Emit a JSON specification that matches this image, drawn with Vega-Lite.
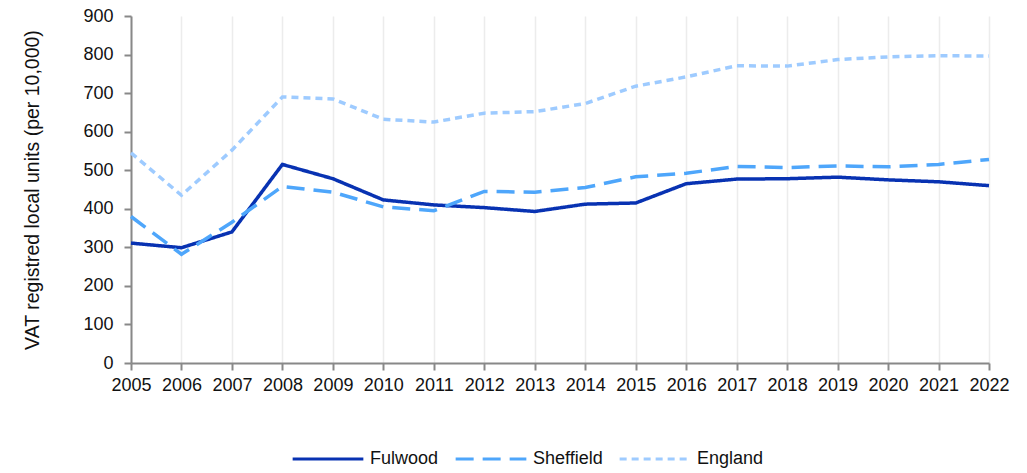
{
  "$schema": "https://vega.github.io/schema/vega-lite/v6.json",
  "width": 858,
  "height": 347,
  "autosize": {"type": "none"},
  "padding": {"left": 131, "top": 16, "right": 38, "bottom": 110},
  "background": "white",
  "config": {
    "view": {"stroke": null},
    "font": "Liberation Sans",
    "axis": {"labelFont": "Liberation Sans", "titleFont": "Liberation Sans", "labelColor": "#111", "titleColor": "#111"},
    "legend": {"labelFont": "Liberation Sans"}
  },
  "data": {"values": [
    {"year": 2005, "area": "Fulwood", "value": 311},
    {"year": 2006, "area": "Fulwood", "value": 299},
    {"year": 2007, "area": "Fulwood", "value": 340},
    {"year": 2008, "area": "Fulwood", "value": 515},
    {"year": 2009, "area": "Fulwood", "value": 478},
    {"year": 2010, "area": "Fulwood", "value": 423},
    {"year": 2011, "area": "Fulwood", "value": 410},
    {"year": 2012, "area": "Fulwood", "value": 403},
    {"year": 2013, "area": "Fulwood", "value": 393},
    {"year": 2014, "area": "Fulwood", "value": 412},
    {"year": 2015, "area": "Fulwood", "value": 415},
    {"year": 2016, "area": "Fulwood", "value": 465},
    {"year": 2017, "area": "Fulwood", "value": 477},
    {"year": 2018, "area": "Fulwood", "value": 478},
    {"year": 2019, "area": "Fulwood", "value": 482},
    {"year": 2020, "area": "Fulwood", "value": 475},
    {"year": 2021, "area": "Fulwood", "value": 470},
    {"year": 2022, "area": "Fulwood", "value": 460},
    {"year": 2005, "area": "Sheffield", "value": 380},
    {"year": 2006, "area": "Sheffield", "value": 282},
    {"year": 2007, "area": "Sheffield", "value": 365},
    {"year": 2008, "area": "Sheffield", "value": 458},
    {"year": 2009, "area": "Sheffield", "value": 443},
    {"year": 2010, "area": "Sheffield", "value": 405},
    {"year": 2011, "area": "Sheffield", "value": 395},
    {"year": 2012, "area": "Sheffield", "value": 445},
    {"year": 2013, "area": "Sheffield", "value": 443},
    {"year": 2014, "area": "Sheffield", "value": 455},
    {"year": 2015, "area": "Sheffield", "value": 483},
    {"year": 2016, "area": "Sheffield", "value": 492},
    {"year": 2017, "area": "Sheffield", "value": 510},
    {"year": 2018, "area": "Sheffield", "value": 507},
    {"year": 2019, "area": "Sheffield", "value": 511},
    {"year": 2020, "area": "Sheffield", "value": 509},
    {"year": 2021, "area": "Sheffield", "value": 515},
    {"year": 2022, "area": "Sheffield", "value": 528},
    {"year": 2005, "area": "England", "value": 545},
    {"year": 2006, "area": "England", "value": 435},
    {"year": 2007, "area": "England", "value": 552},
    {"year": 2008, "area": "England", "value": 690},
    {"year": 2009, "area": "England", "value": 685},
    {"year": 2010, "area": "England", "value": 632},
    {"year": 2011, "area": "England", "value": 625},
    {"year": 2012, "area": "England", "value": 648},
    {"year": 2013, "area": "England", "value": 652},
    {"year": 2014, "area": "England", "value": 673},
    {"year": 2015, "area": "England", "value": 718},
    {"year": 2016, "area": "England", "value": 742},
    {"year": 2017, "area": "England", "value": 771},
    {"year": 2018, "area": "England", "value": 770},
    {"year": 2019, "area": "England", "value": 787},
    {"year": 2020, "area": "England", "value": 794},
    {"year": 2021, "area": "England", "value": 797},
    {"year": 2022, "area": "England", "value": 796}
  ]},
  "mark": {"type": "line", "strokeWidth": 3.5, "strokeJoin": "miter"},
  "encoding": {
    "x": {
      "field": "year", "type": "quantitative",
      "scale": {"domain": [2005, 2022], "nice": false, "zero": false},
      "axis": {
        "title": null, "values": [2005,2006,2007,2008,2009,2010,2011,2012,2013,2014,2015,2016,2017,2018,2019,2020,2021,2022],
        "format": "d", "grid": true, "gridColor": "#ececec", "gridWidth": 1.5,
        "domainColor": "#888", "domainWidth": 2, "tickColor": "#888", "tickWidth": 2, "tickSize": 7,
        "labelFontSize": 18, "labelPadding": 6, "labelFlush": false
      }
    },
    "y": {
      "field": "value", "type": "quantitative",
      "scale": {"domain": [0, 900], "nice": false},
      "axis": {
        "title": "VAT registred local units (per 10,000)", "titleFontSize": 19.5, "titleFontWeight": "normal",
        "titlePadding": 40,
        "values": [0,100,200,300,400,500,600,700,800,900],
        "grid": false, "domainColor": "#888", "domainWidth": 2, "tickColor": "#888", "tickWidth": 2, "tickSize": 7,
        "labelFontSize": 18, "labelPadding": 11
      }
    },
    "color": {
      "field": "area", "type": "nominal",
      "scale": {"domain": ["Fulwood", "Sheffield", "England"], "range": ["#0832b2", "#4ea6fb", "#9ecbff"]},
      "legend": {
        "title": null, "orient": "none", "direction": "horizontal", "legendX": 160, "legendY": 406,
        "symbolType": "stroke", "symbolSize": 5000, "symbolStrokeWidth": 3, "labelFontSize": 18,
        "labelColor": "#111", "labelOffset": 5, "columnPadding": 10
      }
    },
    "strokeDash": {
      "field": "area", "type": "nominal",
      "scale": {"domain": ["Fulwood", "Sheffield", "England"], "range": [[1, 0], [18, 9], [7, 5]]},
      "legend": {
        "title": null, "orient": "none", "direction": "horizontal", "legendX": 160, "legendY": 406,
        "symbolType": "stroke", "symbolSize": 5000, "symbolStrokeWidth": 3, "labelFontSize": 18,
        "labelColor": "#111", "labelOffset": 5, "columnPadding": 10
      }
    }
  }
}
